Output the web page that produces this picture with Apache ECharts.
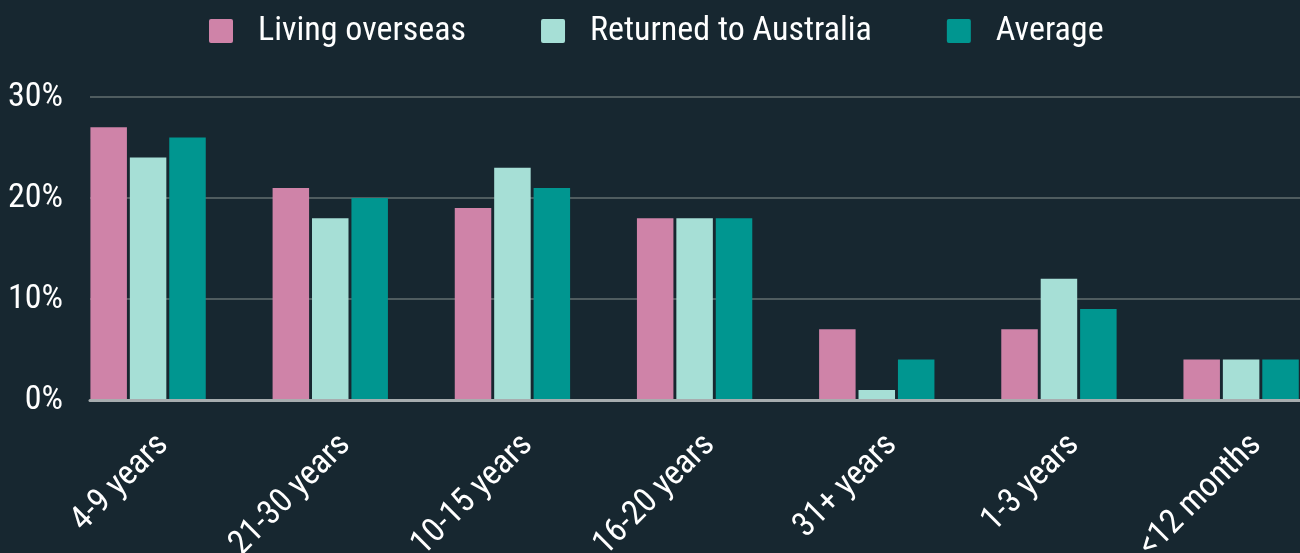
<!DOCTYPE html>
<html>
<head>
<meta charset="utf-8">
<script src="https://cdn.jsdelivr.net/npm/echarts@6/dist/echarts.min.js"></script>
<style>
html,body{margin:0;padding:0;background:#172730;}
#chart{width:1300px;height:553px;}
</style>
</head>
<body>
<div id="chart"></div>
<script>
const categories = ['4-9 years', '21-30 years', '10-15 years', '16-20 years', '31+ years', '1-3 years', '<12 months'];
const livingOverseas = [27, 21, 19, 18, 7, 7, 4];
const returnedToAustralia = [24, 18, 23, 18, 1, 12, 4];
const average = [26, 20, 21, 18, 4, 9, 4];
const yTicks = [0, 10, 20, 30];

const FONT = "'Roboto Condensed', Roboto, sans-serif";
const FS = 34;
const chart = echarts.init(document.getElementById('chart'));

const barStyle = (name, data, color) => ({
  name, type: 'bar', data, xAxisIndex: 1, yAxisIndex: 1,
  barWidth: 36.5, barGap: '8%',
  itemStyle: { color }, z: 3
});

const ICON = 'path://M2,0 H22 A2,2 0 0 1 24,2 V22 A2,2 0 0 1 22,24 H2 A2,2 0 0 1 0,22 V2 A2,2 0 0 1 2,0 Z';
const BAND_W = 1275.2;

chart.setOption({
  backgroundColor: '#172730',
  animation: false,
  textStyle: { fontFamily: FONT },
  legend: {
    top: 14, left: 209, padding: 0,
    itemWidth: 24, itemHeight: 24, itemGap: 75,
    textStyle: { color: '#ffffff', fontSize: FS, fontFamily: FONT, padding: [0, 0, 0, 20] },
    data: [
      { name: 'Living overseas', icon: ICON },
      { name: 'Returned to Australia', icon: ICON },
      { name: 'Average', icon: ICON }
    ]
  },
  grid: [
    { left: 90, right: 0, top: 97, bottom: 153, outerBoundsMode: 'none' },
    { left: 57, width: BAND_W, top: 97, bottom: 153, outerBoundsMode: 'none' },
    { left: 72, width: BAND_W, top: 97, bottom: 153, outerBoundsMode: 'none' }
  ],
  xAxis: [
    { type: 'category', gridIndex: 0, data: categories,
      axisLine: { show: true, lineStyle: { color: '#a7adaf', width: 3 } },
      axisTick: { show: false }, axisLabel: { show: false }, splitLine: { show: false }, z: 4 },
    { type: 'category', gridIndex: 1, data: categories,
      axisLine: { show: false }, axisTick: { show: false }, axisLabel: { show: false } },
    { type: 'category', gridIndex: 2, data: categories,
      axisLine: { show: false }, axisTick: { show: false },
      axisLabel: { color: '#ffffff', fontSize: FS, fontFamily: FONT, rotate: 45, margin: 40, interval: 0 } }
  ],
  yAxis: [
    { type: 'value', gridIndex: 0, min: yTicks[0], max: yTicks[yTicks.length - 1], interval: 10,
      axisLine: { show: false }, axisTick: { show: false },
      axisLabel: { color: '#ffffff', fontSize: FS, fontFamily: FONT, margin: 27, formatter: '{value}%' },
      splitLine: { show: true, lineStyle: { color: '#4f5c5f', width: 2 } } },
    { type: 'value', gridIndex: 1, min: yTicks[0], max: yTicks[yTicks.length - 1], interval: 10,
      show: false, splitLine: { show: false } },
    { type: 'value', gridIndex: 2, min: yTicks[0], max: yTicks[yTicks.length - 1], interval: 10,
      show: false, splitLine: { show: false } }
  ],
  series: [
    barStyle('Living overseas', livingOverseas, '#cf83a8'),
    barStyle('Returned to Australia', returnedToAustralia, '#a6dfd6'),
    barStyle('Average', average, '#009690')
  ]
});
</script>
</body>
</html>
